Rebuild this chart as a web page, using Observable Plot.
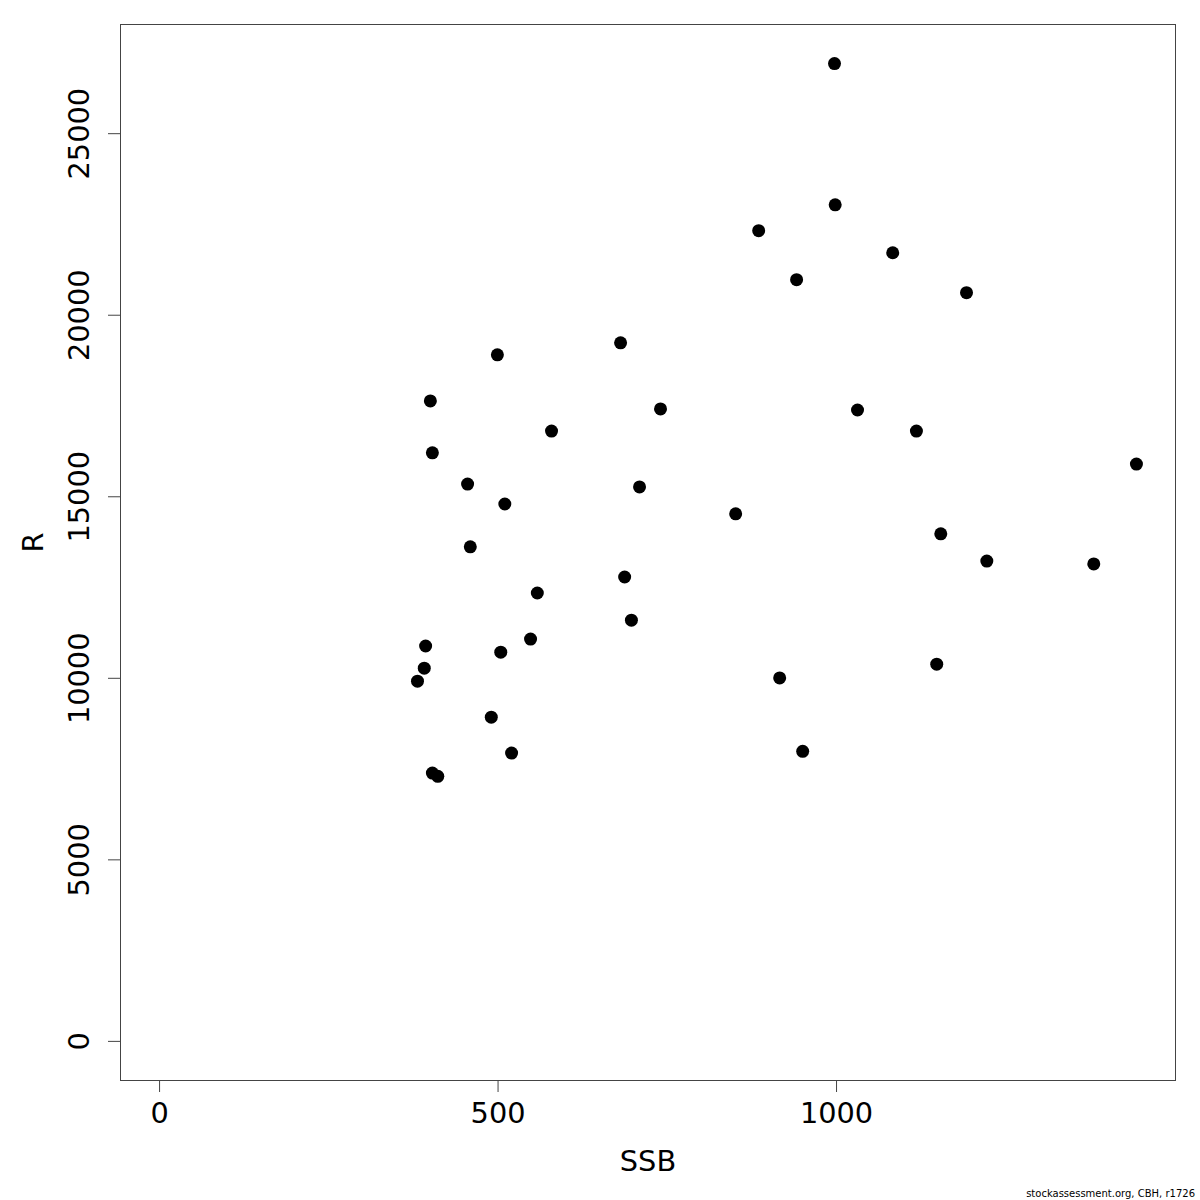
<!DOCTYPE html>
<html>
<head>
<meta charset="utf-8">
<script src="https://cdn.jsdelivr.net/npm/d3@7"></script>
<script src="https://cdn.jsdelivr.net/npm/@observablehq/plot@0.6"></script>
<style>
  html, body { margin: 0; padding: 0; background: #fff; }
  #wrap { position: relative; width: 1200px; height: 1200px; font-family: "DejaVu Sans", sans-serif; }
  #footer { position: absolute; right: 5px; top: 1188px; font-size: 10px; color: #000; font-family: "DejaVu Sans", sans-serif; }
</style>
</head>
<body>
<div id="wrap"><div id="footer">stockassessment.org, CBH, r1726</div></div>
<script>
const ssb = [997, 998, 885, 1083, 941, 1192, 681, 499, 400, 740, 1031, 579, 1118, 403, 1443, 455, 709, 510, 851, 1154, 459, 1222, 1380, 687, 558, 697, 548, 393, 504, 391, 1148, 916, 381, 490, 520, 950, 403, 411];
const rec = [26930, 23040, 22330, 21720, 20980, 20620, 19240, 18910, 17640, 17420, 17390, 16810, 16810, 16210, 15900, 15350, 15270, 14800, 14530, 13980, 13620, 13230, 13150, 12790, 12350, 11600, 11080, 10890, 10720, 10280, 10390, 10010, 9920, 8930, 7940, 7990, 7390, 7300];
const xTicks = [0, 500, 1000];
const yTicks = [0, 5000, 10000, 15000, 20000, 25000];

const data = ssb.map((s, i) => ({ssb: s, r: rec[i]}));
const xMax = d3.max(ssb), yMax = d3.max(rec);
const xDom = [0 - 0.04 * xMax, xMax * 1.04];
const yDom = [0 - 0.04 * yMax, yMax * 1.04];
const fmt = d3.format("d");

const chart = Plot.plot({
  width: 1200,
  height: 1200,
  marginLeft: 120,
  marginRight: 25,
  marginTop: 24,
  marginBottom: 120,
  style: {fontFamily: "DejaVu Sans, sans-serif", fontSize: "28.8px", background: "#fff", color: "#000"},
  x: {domain: xDom},
  y: {domain: yDom},
  marks: [
    Plot.frame({stroke: "#444", strokeWidth: 1}),
    Plot.axisX(xTicks, {tickSize: 12, tickPadding: 10, tickFormat: fmt, stroke: "#444", fill: "#000", fontSize: 28.8, label: null}),
    Plot.axisY(yTicks, {tickSize: 12, tickPadding: 20, tickRotate: -90, tickFormat: fmt, stroke: "#444", fill: "#000", fontSize: 28.8, label: null}),
    Plot.text(["SSB"], {frameAnchor: "bottom", dy: 90, fontSize: 28.8, fill: "#000"}),
    Plot.text(["R"], {frameAnchor: "left", dx: -87, rotate: -90, fontSize: 28.8, fill: "#000"}),
    Plot.dot(data, {x: "ssb", y: "r", r: 6.5, fill: "#000", stroke: null})
  ]
});
document.getElementById("wrap").prepend(chart);
</script>
</body>
</html>
